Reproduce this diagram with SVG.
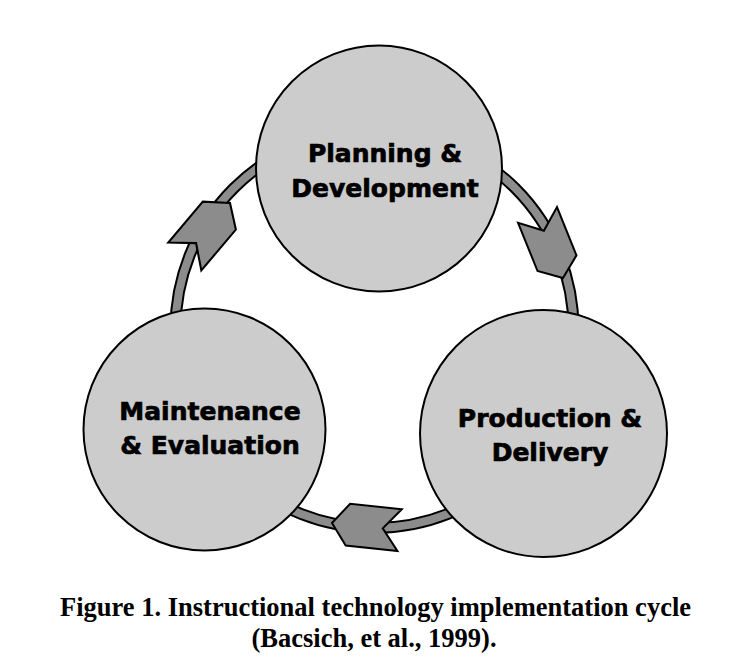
<svg xmlns="http://www.w3.org/2000/svg" xmlns:xlink="http://www.w3.org/1999/xlink" width="736" height="658" viewBox="0 0 736 658">
  <style>
    .node { fill: #cccccc; stroke: #000000; stroke-width: 2; }
    .label { font-family: "DejaVu Sans", Verdana, sans-serif; font-weight: bold; font-size: 25px; fill: #000000; stroke: #000000; stroke-width: 0.7; text-anchor: middle; }
    .caption { font-family: "Liberation Serif", "Times New Roman", serif; font-weight: bold; font-size: 26.5px; fill: #000000; text-anchor: middle; }
    .ring-edge { fill: none; stroke: #000000; stroke-width: 12; }
    .ring-core { fill: none; stroke: #8c8c8c; stroke-width: 8; }
    .arrow { fill: #8c8c8c; stroke: #000000; stroke-width: 2; stroke-linejoin: miter; }
  </style>
  <defs>
    <path id="chevron" d="M0,0 L-16,-21 L-68,-21 L-51,0 L-68,21 L-16,21 Z"/>
  </defs>
  <rect x="0" y="0" width="736" height="658" fill="#ffffff"/>

  <g id="connectors">
    <circle class="ring-edge" cx="374.5" cy="329" r="199"/>
    <circle class="ring-core" cx="374.5" cy="329" r="199"/>
    <use xlink:href="#chevron" href="#chevron" class="arrow" transform="translate(230,203) rotate(-49.8) scale(1.03)"/>
    <use xlink:href="#chevron" href="#chevron" class="arrow" transform="translate(563,278) rotate(68)"/>
    <use xlink:href="#chevron" href="#chevron" class="arrow" transform="translate(332,523) rotate(186)"/>
  </g>

  <g id="planning">
    <circle class="node" cx="379" cy="168.5" r="123"/>
    <text class="label" x="385" y="162">Planning &amp;</text>
    <text class="label" x="385" y="197">Development</text>
  </g>

  <g id="maintenance">
    <circle class="node" cx="204.5" cy="429.5" r="121"/>
    <text class="label" x="210" y="420">Maintenance</text>
    <text class="label" x="210" y="454">&amp; Evaluation</text>
  </g>

  <g id="production">
    <circle class="node" cx="543.5" cy="433.5" r="123.5"/>
    <text class="label" x="550" y="427">Production &amp;</text>
    <text class="label" x="550" y="461">Delivery</text>
  </g>

  <g id="caption">
    <text class="caption" x="375.5" y="616">Figure 1. Instructional technology implementation cycle</text>
    <text class="caption" x="374" y="647">(Bacsich, et al., 1999).</text>
  </g>
</svg>
